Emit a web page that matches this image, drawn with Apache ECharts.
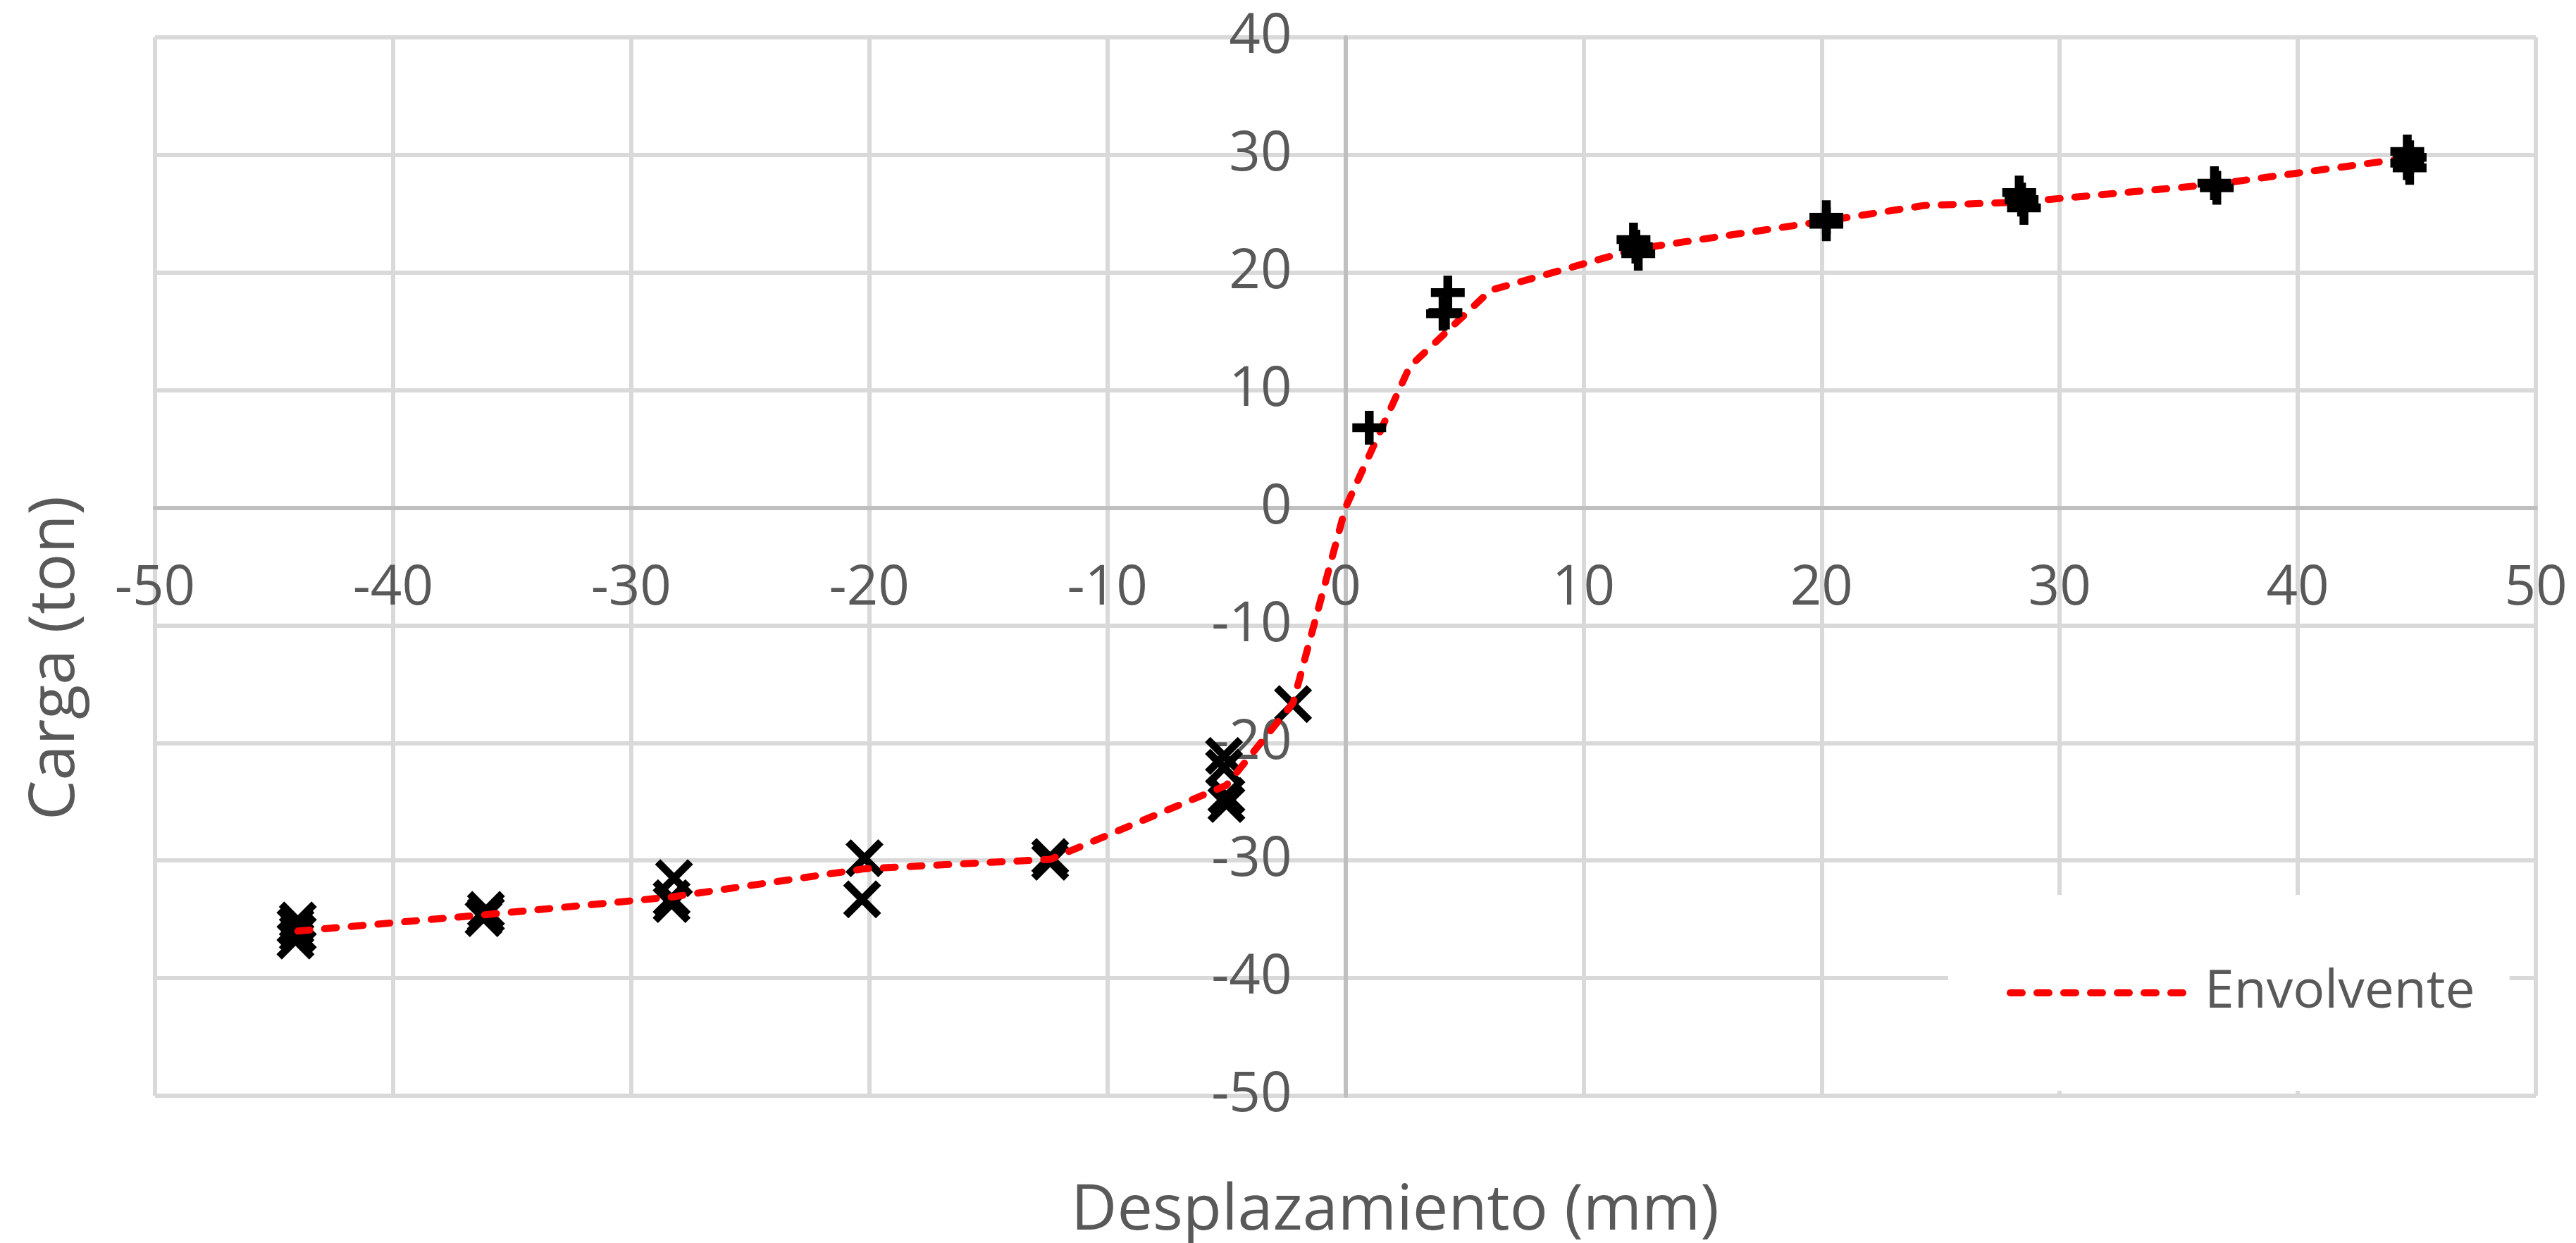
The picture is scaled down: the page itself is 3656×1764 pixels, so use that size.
<!DOCTYPE html>
<html>
<head>
<meta charset="utf-8">
<title>Envolvente carga-desplazamiento</title>
<script src="https://cdn.jsdelivr.net/npm/echarts@6/dist/echarts.min.js"></script>
<style>
  html, body { margin: 0; padding: 0; background: #ffffff; }
  #chart { width: 3656px; height: 1764px; }
</style>
</head>
<body>
<div id="chart"></div>
<script>
// Ciclos positivos (marcador "+")
const posDisp = [1.0, 4.3, 4.2, 4.1, 12.1, 12.2, 12.3, 20.2, 20.2, 28.3, 28.4, 28.5, 36.5, 36.6, 44.6, 44.7, 44.6, 44.7];
const posLoad = [6.8, 18.3, 16.6, 16.5, 22.8, 22.2, 21.6, 24.7, 24.1, 26.8, 26.2, 25.5, 27.6, 27.2, 30.3, 29.8, 29.3, 28.9];

// Ciclos negativos (marcador "x")
const negDisp = [-2.2, -5.1, -5.1, -5.0, -5.0, -12.4, -12.4, -20.2, -20.3, -28.2, -28.3, -28.3, -36.1, -36.1, -36.2, -44.0, -44.1, -44.0, -44.1];
const negLoad = [-16.7, -21.1, -22.1, -24.5, -25.2, -29.7, -30.1, -29.8, -33.3, -31.5, -33.2, -33.7, -34.2, -34.6, -34.9, -35.1, -35.6, -36.2, -36.8];

// Curva envolvente
const envDisp = [-44.0, -36.1, -28.3, -20.2, -12.4, -5.0, -2.2, 0, 2.7, 6.1, 12.2, 20.2, 24.3, 28.4, 36.5, 44.5];
const envLoad = [-36.0, -34.6, -33.1, -30.7, -29.9, -23.6, -16.6, 0, 12.0, 18.5, 22.0, 24.4, 25.7, 26.0, 27.5, 29.7];

// Escalas de los ejes
const xTicks = { min: -50, max: 50, interval: 10 };
const yTicks = { min: -50, max: 40, interval: 10 };

const pairs = (xs, ys) => xs.map((x, i) => [x, ys[i]]);

const W = 3656, H = 1764;
const GRID_BOX = { left: 220, right: 57, top: 53, bottom: 209 };
const plotW = W - GRID_BOX.left - GRID_BOX.right;
const plotH = H - GRID_BOX.top - GRID_BOX.bottom;
// Los ejes se cruzan en el origen: desplazamiento de cada eje desde su borde
const xAxisShift = -plotH * (0 - yTicks.min) / (yTicks.max - yTicks.min);
const yAxisShift = -plotW * (0 - xTicks.min) / (xTicks.max - xTicks.min);

const FONT = '"Open Sans", "Noto Sans", sans-serif';
const TEXT = '#595959';
const GRID = '#d9d9d9';
const AXIS = '#bfbfbf';

const plusPath = 'path://M37,0H63V37H100V63H63V100H37V63H0V37H37Z';
const crossPath = 'path://M0,14L14,0L50,36L86,0L100,14L64,50L100,86L86,100L50,64L14,100L0,86L36,50Z';

const envStyle = { color: '#ff0000', width: 10, type: [17, 21], cap: 'round' };

const chart = echarts.init(document.getElementById('chart'), null, { renderer: 'canvas' });

chart.setOption({
  backgroundColor: '#ffffff',
  animation: false,
  grid: Object.assign({ containLabel: false }, GRID_BOX),
  xAxis: {
    type: 'value',
    position: 'bottom',
    offset: xAxisShift,
    min: xTicks.min, max: xTicks.max, interval: xTicks.interval,
    axisLine: { show: true, onZero: false, lineStyle: { color: AXIS, width: 6 } },
    axisTick: { show: false },
    axisLabel: { fontFamily: FONT, fontSize: 78, color: TEXT, margin: 76 },
    splitLine: { show: true, lineStyle: { color: GRID, width: 6 } }
  },
  yAxis: {
    type: 'value',
    position: 'left',
    offset: yAxisShift,
    min: yTicks.min, max: yTicks.max, interval: yTicks.interval,
    axisLine: { show: true, onZero: false, lineStyle: { color: AXIS, width: 6 } },
    axisTick: { show: false },
    axisLabel: { fontFamily: FONT, fontSize: 78, color: TEXT, margin: 76 },
    splitLine: { show: true, lineStyle: { color: GRID, width: 6 } }
  },
  legend: {
    data: ['Envolvente'],
    left: 2765, top: 1270,
    padding: [99, 49, 99, 83],
    backgroundColor: '#ffffff',
    itemWidth: 250, itemHeight: 30,
    lineStyle: envStyle,
    itemStyle: { opacity: 0 },
    textStyle: { fontFamily: FONT, fontSize: 75, color: TEXT, lineHeight: 80, padding: [0, 0, 0, 21] }
  },
  series: [
    {
      name: 'Ciclos negativos',
      type: 'scatter',
      data: pairs(negDisp, negLoad),
      symbol: crossPath,
      symbolSize: 54,
      itemStyle: { color: '#000000', opacity: 1 },
      z: 2
    },
    {
      name: 'Envolvente',
      type: 'line',
      data: pairs(envDisp, envLoad),
      symbol: 'none',
      smooth: false,
      lineStyle: envStyle,
      itemStyle: { color: '#ff0000' },
      z: 3
    },
    {
      name: 'Ciclos positivos',
      type: 'scatter',
      data: pairs(posDisp, posLoad),
      symbol: plusPath,
      symbolSize: 48,
      itemStyle: { color: '#000000', opacity: 1 },
      z: 4
    }
  ],
  graphic: [
    {
      type: 'text',
      x: 1980, y: 1719,
      style: {
        text: 'Desplazamiento (mm)',
        font: '90px ' + FONT,
        fill: TEXT,
        textAlign: 'center',
        textVerticalAlign: 'middle'
      }
    },
    {
      type: 'text',
      x: 79, y: 934,
      rotation: Math.PI / 2,
      style: {
        text: 'Carga (ton)',
        font: '90px ' + FONT,
        fill: TEXT,
        textAlign: 'center',
        textVerticalAlign: 'middle'
      }
    }
  ]
});
</script>
</body>
</html>
